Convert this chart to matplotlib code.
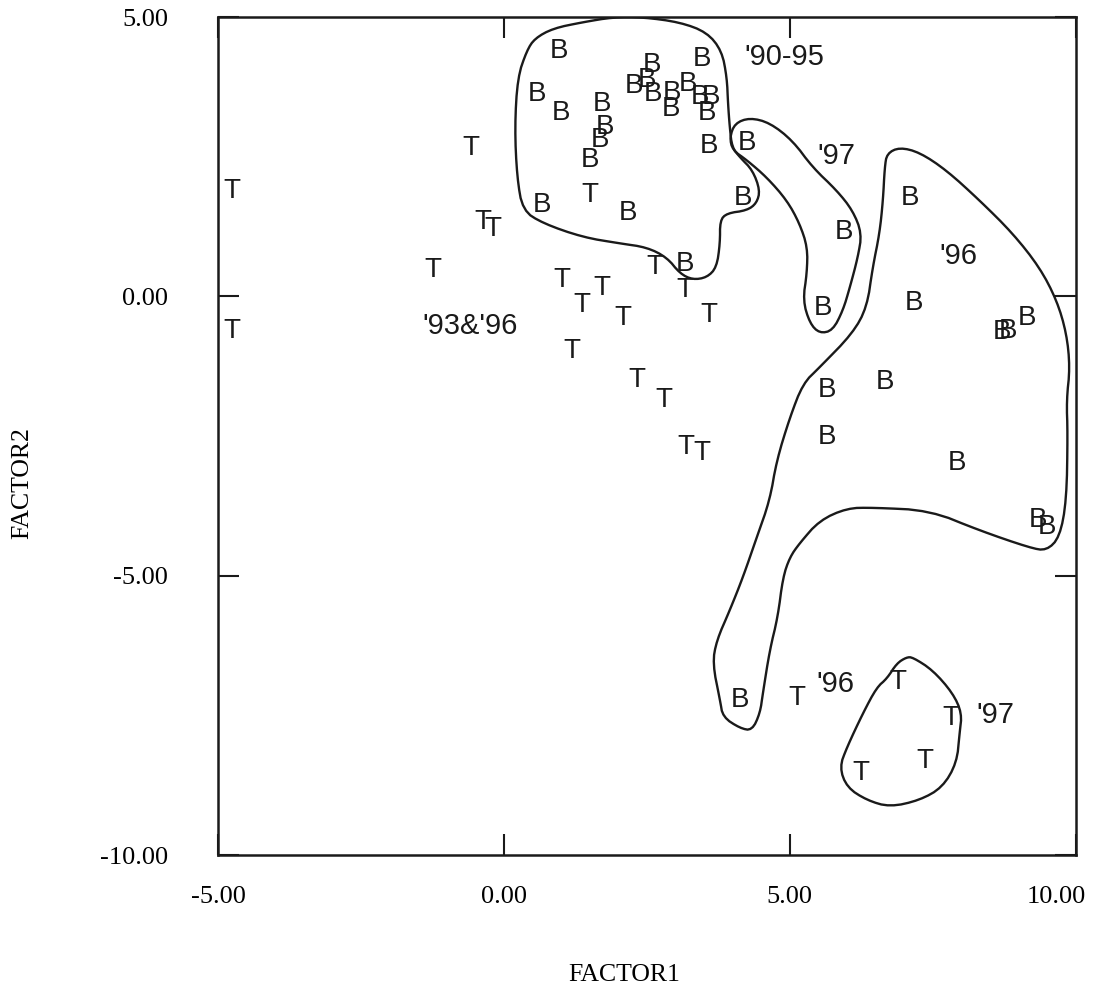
import matplotlib
matplotlib.use("Agg")
import matplotlib.pyplot as plt
import numpy as np
from matplotlib.patches import Polygon
from matplotlib.transforms import ScaledTranslation

# ---- data (FACTOR1, FACTOR2) ----
b_x = [0.96, 3.46, 2.59, 0.58, 2.27, 2.50, 2.60, 2.94, 2.92, 3.22, 3.43, 3.62, 3.55,
       1.00, 1.71, 1.77, 1.68, 1.50, 3.58, 4.25, 0.66, 2.17, 4.18, 3.16,
       5.94, 5.58, 7.10, 7.17, 9.14, 8.71, 8.81, 5.65, 6.66, 5.65, 7.92, 9.34, 9.49, 4.13]
b_y = [4.39, 4.26, 4.15, 3.62, 3.76, 3.87, 3.63, 3.65, 3.35, 3.81, 3.58, 3.58, 3.28,
       3.28, 3.45, 3.03, 2.80, 2.44, 2.70, 2.74, 1.63, 1.49, 1.77, 0.59,
       1.15, -0.21, 1.77, -0.11, -0.38, -0.64, -0.61, -1.68, -1.54, -2.52, -2.99, -4.01, -4.13, -7.23]

t_x = [-4.76, -4.76, -0.58, -0.37, -0.19, -1.24, 1.01, 1.36, 1.71, 2.08, 1.19, 1.50,
       2.64, 3.16, 3.58, 2.33, 2.80, 3.18, 3.46, 5.12, 6.89, 7.81, 7.36, 6.24]
t_y = [1.88, -0.62, 2.65, 1.34, 1.20, 0.48, 0.29, -0.16, 0.16, -0.39, -0.97, 1.81,
       0.52, 0.11, -0.34, -1.50, -1.86, -2.70, -2.81, -7.18, -6.91, -7.55, -8.31, -8.54]

group_labels = ["'90-95", "'97", "'96", "'93&'96", "'96", "'97"]
label_x = [4.21, 5.49, 7.62, -1.42, 5.47, 8.27]
label_y = [4.28, 2.52, 0.72, -0.52, -6.93, -7.49]

# hand-traced group outlines
outline_9095 = [(0.54, 4.62), (0.86, 4.80), (1.38, 4.91), (1.91, 5.00), (2.43, 5.00), (3.08, 4.91),
                (3.55, 4.73), (3.81, 4.40), (3.90, 3.92), (3.92, 3.45), (3.95, 3.03), (3.99, 2.67),
                (4.13, 2.49), (4.35, 2.26), (4.48, 1.90), (4.42, 1.67), (4.25, 1.54), (3.90, 1.49),
                (3.78, 1.36), (3.78, 0.95), (3.72, 0.52), (3.55, 0.34), (3.30, 0.30), (3.08, 0.41),
                (2.85, 0.70), (2.50, 0.88), (2.03, 0.95), (1.38, 1.06), (0.68, 1.31), (0.33, 1.54),
                (0.23, 2.13), (0.19, 3.03), (0.24, 3.92), (0.40, 4.40)]
outline_97a = [(4.04, 3.10), (4.30, 3.20), (4.65, 3.11), (5.05, 2.79), (5.40, 2.31), (5.82, 1.90),
               (6.10, 1.54), (6.26, 1.13), (6.19, 0.70), (6.05, 0.16), (5.93, -0.25), (5.75, -0.61),
               (5.52, -0.66), (5.35, -0.48), (5.23, -0.07), (5.30, 0.42), (5.31, 0.88), (5.17, 1.31),
               (4.95, 1.72), (4.60, 2.13), (4.25, 2.44), (4.00, 2.62), (3.95, 2.85)]
outline_96 = [(6.70, 2.56), (6.92, 2.67), (7.27, 2.58), (7.74, 2.26), (8.32, 1.72), (8.90, 1.13),
              (9.37, 0.52), (9.67, -0.07), (9.84, -0.66), (9.90, -1.27), (9.84, -1.86), (9.86, -2.45),
              (9.84, -3.65), (9.72, -4.31), (9.49, -4.55), (9.20, -4.50), (8.32, -4.19), (7.45, -3.83),
              (6.45, -3.78), (6.00, -3.79), (5.52, -4.01), (5.17, -4.42), (5.00, -4.67), (4.88, -5.03),
              (4.79, -5.74), (4.65, -6.33), (4.53, -7.10), (4.48, -7.46), (4.34, -7.77), (4.13, -7.73),
              (3.83, -7.53), (3.78, -7.23), (3.65, -6.57), (3.72, -6.16), (3.95, -5.62), (4.18, -5.03),
              (4.42, -4.32), (4.65, -3.65), (4.77, -2.94), (5.00, -2.17), (5.23, -1.56), (5.52, -1.27),
              (6.10, -0.66), (6.35, -0.19), (6.45, 0.52), (6.57, 1.13), (6.63, 1.72), (6.66, 2.31)]
outline_97b = [(7.15, -6.46), (7.50, -6.69), (7.85, -7.10), (8.01, -7.46), (7.97, -7.82), (7.92, -8.35),
               (7.67, -8.79), (7.27, -9.02), (6.75, -9.14), (6.35, -9.02), (6.00, -8.79), (5.87, -8.43),
               (6.00, -8.07), (6.28, -7.46), (6.52, -7.00), (6.70, -6.84), (6.87, -6.57), (7.04, -6.46)]

x_ticks = [-5, 0, 5, 10]
y_ticks = [-10, -5, 0, 5]


def rounded(pts, n=2):
    """Round off the corners of a hand-traced closed outline (Chaikin)."""
    p = np.asarray(pts, dtype=float)
    for _ in range(n):
        q = np.roll(p, -1, axis=0)
        p = np.column_stack([0.75 * p + 0.25 * q, 0.25 * p + 0.75 * q]).reshape(-1, 2)
    return p


# ---- figure ----
fig = plt.figure(figsize=(11.01, 9.88), dpi=100)
ax = fig.add_axes([0.198, 0.1346, 0.779, 0.848])
ax.set_xlim(-5, 10)
ax.set_ylim(-10, 5)

sans = "Liberation Sans"
serif = "Liberation Serif"
ink = "#1a1a1a"

for outline in (outline_9095, outline_97a, outline_96, outline_97b):
    ax.add_patch(Polygon(rounded(outline), closed=True, fill=False, edgecolor=ink,
                         linewidth=1.7, joinstyle="round", zorder=2))

for x, y in zip(b_x, b_y):
    ax.text(x, y, "B", family=sans, fontsize=20, color=ink,
            ha="center", va="center", zorder=3)
for x, y in zip(t_x, t_y):
    ax.text(x, y, "T", family=sans, fontsize=20, color=ink,
            ha="center", va="center", zorder=3)
for s, x, y in zip(group_labels, label_x, label_y):
    ax.text(x, y, s, family=sans, fontsize=21, color=ink,
            ha="left", va="center", zorder=3)

ax.set_xticks(x_ticks)
ax.set_yticks(y_ticks)
ax.set_xticklabels([f"{v:.2f}" for v in x_ticks], family=serif, fontsize=19)
ax.set_yticklabels([f"{v:.2f}" for v in y_ticks], family=serif, fontsize=19)
ax.tick_params(direction="in", length=15, width=1.5, top=True, right=True, color=ink)
ax.tick_params(axis="x", pad=22)
ax.tick_params(axis="y", pad=36)
for sp in ax.spines.values():
    sp.set_linewidth(1.8)
    sp.set_color(ink)

# the last x label sits a little left of its tick so it stays inside the figure
last = ax.get_xticklabels()[-1]
last.set_transform(last.get_transform() + ScaledTranslation(-14 / 72, 0, fig.dpi_scale_trans))

ax.set_xlabel("FACTOR1", family=serif, fontsize=18.5)
ax.xaxis.label.set_va("center")
ax.xaxis.set_label_coords(0.474, -0.143)
ax.set_ylabel("FACTOR2", family=serif, fontsize=18.5)
ax.yaxis.label.set_va("center")
ax.yaxis.set_label_coords(-0.228, 0.444)

fig.savefig("out.png", dpi=100)
